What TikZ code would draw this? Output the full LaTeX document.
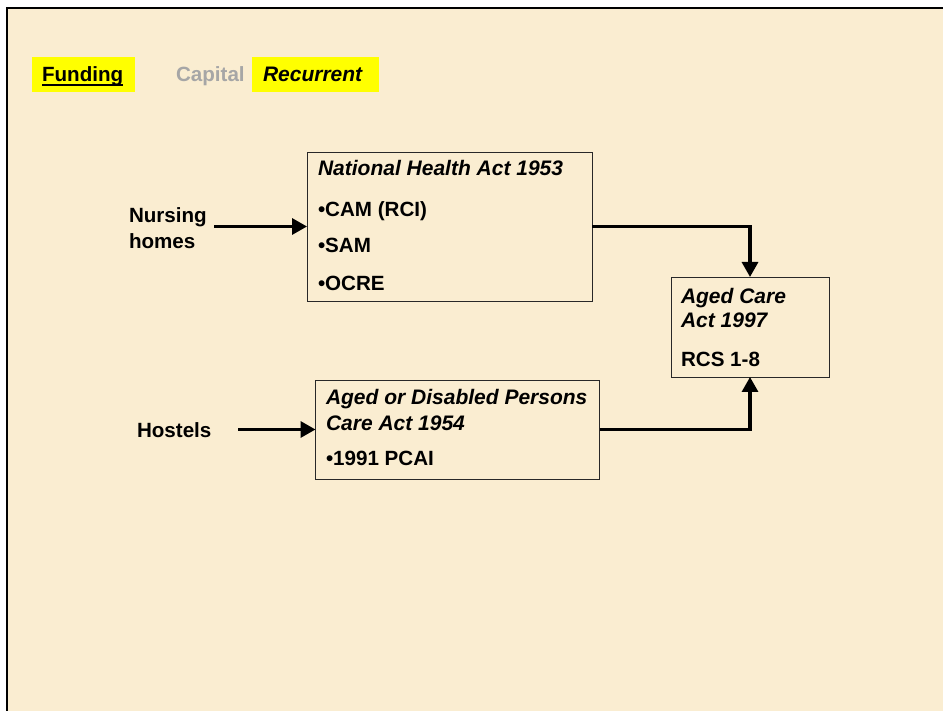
\documentclass[tikz,border=0pt]{standalone}
\usepackage{fontspec}
\setmainfont{Liberation Sans}
\usetikzlibrary{arrows.meta}
\definecolor{paper}{RGB}{250,237,209}
\definecolor{hilite}{RGB}{255,255,0}
\definecolor{muted}{RGB}{166,166,166}
\definecolor{boxline}{RGB}{40,40,40}
\begin{document}
\begin{tikzpicture}[x=1pt,y=-1pt,
  every node/.style={inner sep=0pt, outer sep=0pt},
  lbl/.style={anchor=base west, font=\fontsize{20.6}{24}\selectfont\bfseries},
  ttl/.style={anchor=base west, font=\fontsize{21}{24}\selectfont\bfseries\itshape},
  actbox/.style={draw=boxline, line width=0.9pt, rectangle, anchor=north west},
  tag/.style={fill=hilite, rectangle, anchor=north west},
  conn/.style={line width=3.2pt, -{Triangle[length=15pt,width=16pt]}}]

% page and slide frame
\useasboundingbox (0,0) rectangle (943,711);
\fill[white] (0,0) rectangle (943,711);
\fill[paper] (7,8) rectangle (943,711);
\draw[line width=2.2pt] (7,711) -- (7,8) -- (943,8);

% heading tags
\node[tag, minimum width=103pt, minimum height=35pt] (fundbg) at (32,57) {};
\node[tag, minimum width=127pt, minimum height=35pt] (recbg) at (252,57) {};
\node[lbl] (fund) at (42,82) {Funding};
\draw[line width=1.6pt] ([yshift=-2.8pt]fund.base west) -- ([yshift=-2.8pt]fund.base east);
\node[lbl, text=muted] (cap) at (176,82) {Capital};
\node[ttl] (rec) at (263,82) {Recurrent};

% legislation boxes
\node[actbox, minimum width=285pt, minimum height=149pt] (nha) at (307,152) {};
\node[ttl] (nhat) at (318,176) {National Health Act 1953};
\node[lbl] (cam) at (318,217) {\textbullet CAM (RCI)};
\node[lbl] (sam) at (318,253) {\textbullet SAM};
\node[lbl] (ocre) at (318,291) {\textbullet OCRE};

\node[actbox, minimum width=284pt, minimum height=99pt] (adp) at (315.5,380) {};
\node[ttl] (adpt1) at (326,405) {Aged or Disabled Persons};
\node[ttl] (adpt2) at (326,430) {Care Act 1954};
\node[lbl] (pcai) at (326,465) {\textbullet 1991 PCAI};

\node[actbox, minimum width=158pt, minimum height=100pt] (ac) at (671,277) {};
\node[ttl] (act1) at (681,304) {Aged Care};
\node[ttl] (act2) at (681,328) {Act 1997};
\node[lbl] (rcs) at (681,367) {RCS 1-8};

% residential care streams
\node[lbl] (nurs1) at (129,223) {Nursing};
\node[lbl] (nurs2) at (129,249) {homes};
\node[lbl] (host) at (137,438) {Hostels};
\coordinate (nstart) at (214,226.5);
\coordinate (hstart) at (238,429.5);

% flows
\draw[conn] (nstart) -- (nha.west);
\draw[conn] (hstart) -- (adp.west);
\draw[conn] (nha.east) -| (ac.north);
\draw[conn] (adp.east) -| (ac.south);
\end{tikzpicture}
\end{document}
